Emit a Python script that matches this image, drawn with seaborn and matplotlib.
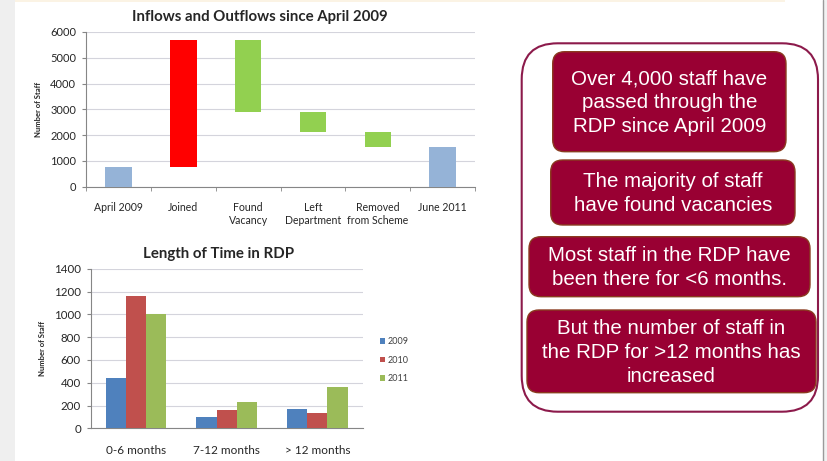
import matplotlib
matplotlib.use("Agg")
import matplotlib.pyplot as plt
import seaborn as sns
import pandas as pd
from matplotlib.patches import FancyBboxPatch, Rectangle, Patch

# Waterfall: opening total, flows in/out, closing total
stages = ["April 2009", "Joined", "Found\nVacancy", "Left\nDepartment",
          "Removed\nfrom Scheme", "June 2011"]
flows = [770, 4920, -2800, -780, -570, 1540]
is_total = [True, False, False, False, False, True]
flow_colors = ["#95B3D7", "#FF0000", "#92D050", "#92D050", "#92D050", "#95B3D7"]

# Time spent in the RDP by year
durations = ["0-6 months", "7-12 months", "> 12 months"]
years = ["2009", "2010", "2011"]
staff_2009 = [445, 100, 170]
staff_2010 = [1160, 160, 130]
staff_2011 = [1000, 230, 365]
year_colors = ["#4F81BD", "#C0504D", "#9BBB59"]

messages = [
    "Over 4,000 staff have\npassed through the\nRDP since April 2009",
    "The majority of staff\nhave found vacancies",
    "Most staff in the RDP have\nbeen there for <6 months.",
    "But the number of staff in\nthe RDP for >12 months has\nincreased",
]

sns.set_style("white")
plt.rcParams["font.family"] = ["Lato", "DejaVu Sans"]

fig = plt.figure(figsize=(8.28, 4.61), dpi=100)
fig.patch.set_facecolor("white")

axis_grey = "#868686"
grid_grey = "#d4d4dc"
label_color = "#262626"

# ---- waterfall chart ----
lows, spans = [], []
running = 0
for f, tot in zip(flows, is_total):
    if tot:
        lows.append(0)
        spans.append(f)
        running = f
    else:
        end = running + f
        lows.append(min(running, end))
        spans.append(abs(f))
        running = end
wf = pd.DataFrame({"stage": stages, "low": lows, "span": spans})

ax1 = fig.add_axes([0.1039, 0.595, 0.470, 0.3357])
sns.barplot(data=wf, x="stage", y="span", order=stages, bottom=wf["low"].values,
            errorbar=None, width=0.41, color=flow_colors[0], saturation=1,
            ax=ax1, zorder=3)
for patch, c in zip(ax1.patches, flow_colors):
    patch.set_facecolor(c)
    patch.set_edgecolor("none")
ax1.set_ylim(0, 6000)
ax1.set_xlim(-0.5, len(stages) - 0.5)
ax1.set_yticks(range(0, 6001, 1000))
ax1.yaxis.grid(True, color=grid_grey, lw=0.8, zorder=0)
ax1.set_axisbelow(True)
ax1.set_xlabel("")
ax1.set_ylabel("Number of Staff", fontsize=5.5, fontweight="bold", labelpad=6)
ax1.set_title("Inflows and Outflows since April 2009", fontsize=10.8,
              fontweight="bold", pad=8, x=0.447)
ax1.tick_params(axis="y", labelsize=8, length=3, color=axis_grey, direction="out",
                left=True, pad=4, labelcolor=label_color)
ax1.tick_params(axis="x", which="major", labelsize=7.6, length=0, pad=11,
                labelcolor=label_color)
ax1.set_xticks([i + 0.5 for i in range(-1, len(stages))], minor=True)
ax1.tick_params(axis="x", which="minor", length=3, color=axis_grey, bottom=True)
for side in ["top", "right"]:
    ax1.spines[side].set_visible(False)
for side in ["left", "bottom"]:
    ax1.spines[side].set_color(axis_grey)
    ax1.spines[side].set_linewidth(0.8)

# ---- grouped bars ----
rdp = pd.DataFrame({
    "duration": durations * 3,
    "year": [y for y in years for _ in durations],
    "staff": staff_2009 + staff_2010 + staff_2011,
})
ax2 = fig.add_axes([0.1095, 0.0709, 0.3285, 0.3462])
sns.barplot(data=rdp, x="duration", y="staff", hue="year", order=durations,
            hue_order=years, palette=year_colors, saturation=1, width=0.67,
            errorbar=None, legend=False, ax=ax2, zorder=3)
for patch in ax2.patches:
    patch.set_edgecolor("none")
ax2.set_ylim(0, 1400)
ax2.set_yticks(range(0, 1401, 200))
ax2.yaxis.grid(True, color=grid_grey, lw=0.8, zorder=0)
ax2.set_axisbelow(True)
ax2.set_xlabel("")
ax2.set_ylabel("Number of Staff", fontsize=5.5, fontweight="bold", labelpad=6)
ax2.set_title("Length of Time in RDP", fontsize=10.8, fontweight="bold", pad=8,
              x=0.47)
ax2.tick_params(axis="y", labelsize=8.3, length=3, color=axis_grey, left=True,
                pad=4, labelcolor=label_color)
ax2.tick_params(axis="x", labelsize=8.5, length=0, pad=12, labelcolor=label_color)
for side in ["top", "right"]:
    ax2.spines[side].set_visible(False)
for side in ["left", "bottom"]:
    ax2.spines[side].set_color(axis_grey)
    ax2.spines[side].set_linewidth(0.8)

handles = [Patch(facecolor=c, edgecolor="none", label=y)
           for y, c in zip(years, year_colors)]
fig.legend(handles=handles, loc="center left", bbox_to_anchor=(0.449, 0.219),
           frameon=False, fontsize=6.5, handlelength=0.55, handleheight=0.55,
           handletextpad=0.35, labelspacing=1.05, labelcolor="#404040")

# ---- page furniture and message panel (pixel coordinates) ----
ov = fig.add_axes([0, 0, 1, 1], zorder=10)
ov.set_xlim(0, 828)
ov.set_ylim(461, 0)
ov.axis("off")

ov.add_patch(Rectangle((0, 0), 15, 461, facecolor="#efefef", edgecolor="none"))
ov.add_patch(Rectangle((15, 0), 770, 2, facecolor="#fbf3e4", edgecolor="none"))
ov.add_patch(Rectangle((823, 0), 5, 461, facecolor="#f2f2f2", edgecolor="none"))
ov.plot([823, 823], [0, 461], color="#9a9a9a", lw=1)

ov.add_patch(FancyBboxPatch((521.7, 43.3), 296.3, 368.4,
                            boxstyle="round,pad=0,rounding_size=36",
                            facecolor="white", edgecolor="#8c1a4b", lw=1.5))

boxes = [
    (552.7, 51.7, 786, 151.7),
    (550.7, 160, 795, 225),
    (529, 236.7, 810, 296.7),
    (527, 310, 816, 392.7),
]
for (x0, y0, x1, y1), msg in zip(boxes, messages):
    ov.add_patch(FancyBboxPatch((x0, y0), x1 - x0, y1 - y0,
                                boxstyle="round,pad=0,rounding_size=12",
                                facecolor="#990033", edgecolor="#8a3b1f", lw=1.0))
    ov.text((x0 + x1) / 2, (y0 + y1) / 2 + 1, msg, color="white",
            fontsize=14.8, ha="center", va="center", linespacing=1.32,
            family=["Liberation Sans", "DejaVu Sans"])

fig.savefig("out.png", dpi=100)
